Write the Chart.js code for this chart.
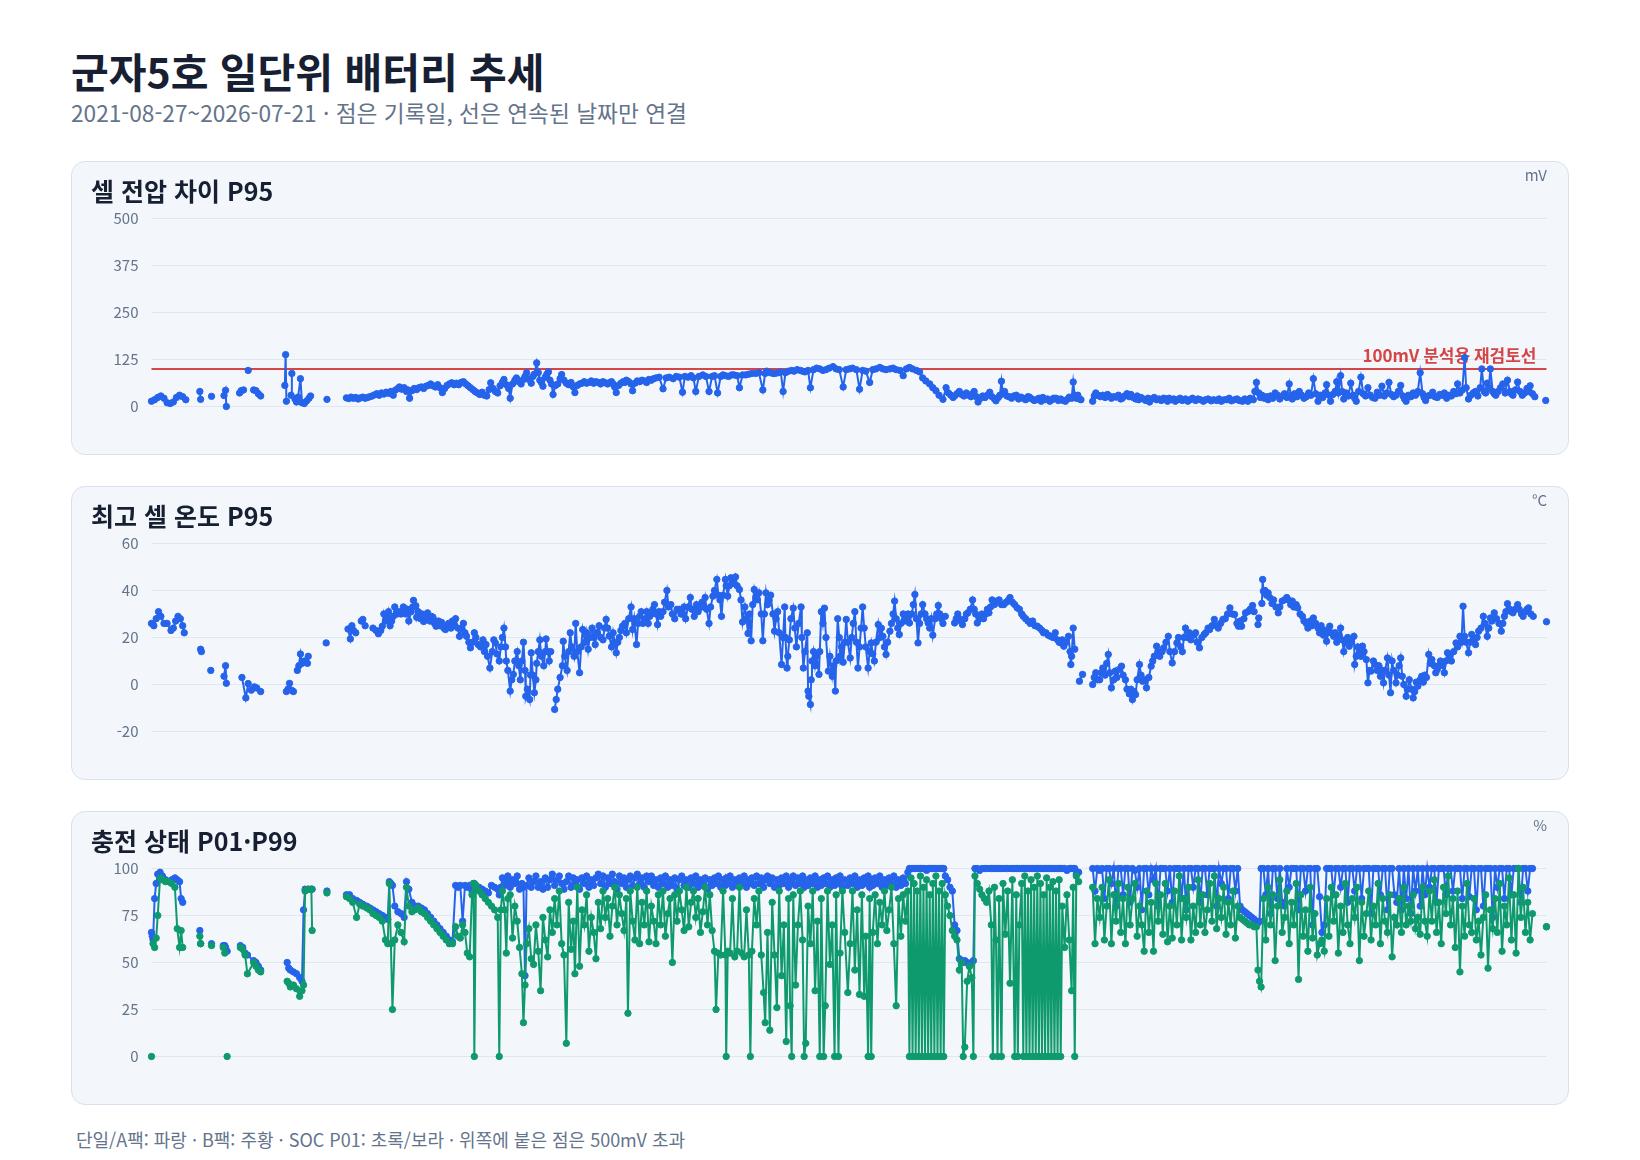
<!DOCTYPE html>
<html lang="ko">
<head>
<meta charset="utf-8">
<title>군자5호 일단위 배터리 추세</title>
<script src="https://cdn.jsdelivr.net/npm/chart.js@4.4.1/dist/chart.umd.min.js"></script>
<style>
  body { margin: 0; background: #ffffff; font-family: "Noto Sans CJK KR", "Noto Sans", sans-serif; }
  .page { position: relative; width: 1640px; height: 1160px; overflow: hidden; }
  h1 { position: absolute; left: 71px; top: 50px; margin: 0; font-size: 41px; line-height: 1; font-weight: 700; color: #172033; white-space: nowrap; }
  .sub { position: absolute; left: 71px; top: 102px; margin: 0; font-size: 22.7px; line-height: 1; color: #64748b; white-space: nowrap; }
  .panel { position: absolute; left: 71px; width: 1498px; height: 294px; box-sizing: border-box; border: 1.5px solid #d8e1eb; border-radius: 14px; background: #f3f7fb; }
  .panel h2 { position: absolute; left: 19px; top: 16px; margin: 0; font-size: 25px; line-height: 1; font-weight: 700; color: #172033; white-space: nowrap; z-index: 2; }
  .unit { position: absolute; right: 21px; top: 5px; font-size: 15px; line-height: 1; color: #64748b; z-index: 2; }
  .panel canvas { position: absolute; left: 0; top: 0; }
  .foot { position: absolute; left: 76px; top: 1130px; margin: 0; font-size: 18px; line-height: 1; color: #64748b; white-space: nowrap; }
</style>
</head>
<body>
<div class="page">
  <h1>군자5호 일단위 배터리 추세</h1>
  <p class="sub">2021-08-27~2026-07-21 · 점은 기록일, 선은 연속된 날짜만 연결</p>

  <div class="panel" style="top:161px">
    <h2>셀 전압 차이 P95</h2>
    <span class="unit">mV</span>
    <canvas id="cell-chart" width="1495" height="291"></canvas>
  </div>

  <div class="panel" style="top:486px">
    <h2>최고 셀 온도 P95</h2>
    <span class="unit">°C</span>
    <canvas id="temp-chart" width="1495" height="291"></canvas>
  </div>

  <div class="panel" style="top:811px">
    <h2>충전 상태 P01·P99</h2>
    <span class="unit">%</span>
    <canvas id="soc-chart" width="1495" height="291"></canvas>
  </div>

  <p class="foot">단일/A팩: 파랑 · B팩: 주황 · SOC P01: 초록/보라 · 위쪽에 붙은 점은 500mV 초과</p>
</div>

<script>
'use strict';

// *** Data (x = days since 2021-08-27, null = no record, breaks the line) ***

const TOTAL_DAYS = 1789;
const CELL_LIMIT_MV = 100;

let cellTicks = [0, 125, 250, 375, 500];
let tempTicks = [-20, 0, 20, 40, 60];
let socTicks = [0, 25, 50, 75, 100];

// [day, cell voltage gap P95 mV]
let cellDiffP95 = [
  [0,14],[4,18],[8,24],[12,28],[16,22],[20,10],[24,8],[28,12],[32,24],[36,30],[40,26],[44,18],[50,null],
  [62,40],[63,19],[70,null],[77,27],[85,null],[93,29],[95,43],[96,0],[105,null],
  [113,36],[115,42],[118,44],[121,null],[124,96],[127,null],[131,44],[134,42],[137,34],[140,28],[155,null],
  [171,56],[172,138],[173,14],[176,null],[179,30],[180,88],[182,null],
  [184,20],[186,12],[188,25],[191,74],[193,10],[196,8],[199,15],[202,22],[204,28],[215,null],[225,19],[240,null],
  [250,23],[253,21],[256,25],[259,22],[262,24],[265,20],[268,23],[271,25],[274,22],[277,24],[280,26],[283,28],
  [286,31],[289,34],[292,30],[295,36],[298,33],[301,38],[304,35],[307,40],[310,30],[313,44],[316,48],[318,52],
  [321,46],[324,50],[327,40],[329,44],[331,22],[334,42],[337,48],[340,45],[343,50],[346,52],[349,48],[352,54],
  [355,56],[358,60],[361,55],[364,52],[367,58],[370,50],[373,37],[376,48],[379,56],[382,60],[385,63],[388,58],
  [391,62],[394,58],[397,64],[400,66],[403,60],[406,55],[409,50],[412,45],[415,40],[418,36],[421,32],[424,38],
  [427,30],[430,28],[433,45],[435,63],[438,48],[441,40],[444,36],[447,55],[450,64],[452,72],[455,58],[458,48],
  [460,22],[463,60],[466,70],[468,76],[471,66],[474,60],[477,72],[479,80],[481,90],[484,72],[487,62],[489,80],
  [491,86],[494,116],[496,90],[498,70],[500,64],[502,54],[505,78],[507,86],[509,92],[511,70],[513,60],[515,32],
  [518,56],[521,60],[524,74],[526,85],[529,70],[532,62],[535,58],[538,64],[541,52],[543,37],[546,56],[549,60],
  [552,62],[555,66],[558,62],[561,64],[564,68],[567,62],[570,66],[573,64],[576,60],[579,66],[582,63],[585,60],
  [588,64],[590,66],[592,60],[594,52],[596,37],[599,56],[602,62],[605,66],[607,64],[609,70],[612,66],[615,60],
  [617,42],[620,62],[623,68],[626,66],[629,70],[632,68],[635,64],[638,72],[641,70],[644,74],
  [647,76],[651,78],[656,47],[660,76],[664,78],[669,74],[673,80],[677,78],[681,38],[684,80],[688,78],[692,82],
  [695,76],[698,40],[702,80],[707,84],[711,80],[715,40],[719,80],[722,82],[726,36],[730,80],[733,84],[736,82],
  [740,80],[744,84],[747,84],[751,82],[754,50],[758,84],[762,84],[766,86],[770,88],[775,88],[779,90],[784,44],
  [787,88],[789,94],[793,90],[797,88],[800,88],[804,90],[807,92],[810,40],[813,90],[817,94],[821,96],[824,94],
  [828,98],[832,96],[835,94],[838,92],[842,96],[845,50],[849,98],[853,102],[857,100],[861,96],[865,98],[869,102],
  [874,106],[878,100],[882,98],[887,52],[891,98],[895,100],[899,102],[904,98],[908,46],[912,96],[916,94],[921,64],
  [925,98],[929,100],[934,104],[938,100],[942,98],[947,100],[951,102],[955,98],[960,96],[964,82],[968,100],[972,104],
  [976,100],[981,96],[985,92],[989,76],[993,68],[998,60],[1002,50],[1006,42],[1010,30],[1015,19],
  [1019,50],[1022,36],[1025,30],[1028,24],[1030,28],[1033,34],[1036,40],[1039,32],[1042,28],[1045,36],[1048,30],
  [1051,26],[1053,34],[1055,40],[1058,26],[1060,12],[1063,22],[1066,28],[1069,24],[1072,30],[1075,38],[1078,26],
  [1081,20],[1083,15],[1086,24],[1088,30],[1090,67],[1092,34],[1094,40],[1097,28],[1100,26],[1103,22],[1106,28],
  [1109,30],[1112,20],[1115,25],[1118,22],[1121,18],[1124,26],[1126,25],[1129,20],[1132,16],[1135,18],[1138,22],
  [1141,14],[1143,24],[1146,18],[1149,20],[1152,14],[1155,18],[1157,22],[1160,22],[1163,16],[1166,20],[1169,16],
  [1172,14],[1175,20],[1177,25],[1180,22],[1182,65],[1184,30],[1186,22],[1188,30],[1190,20],[1192,18],[1198,null],
  [1207,14],[1209,28],[1211,36],[1214,30],[1217,26],[1220,30],[1223,24],[1226,32],[1228,28],[1231,22],[1234,26],
  [1237,25],[1240,30],[1243,20],[1245,22],[1248,28],[1251,34],[1254,26],[1256,32],[1259,24],[1262,20],[1264,28],
  [1266,18],[1269,24],[1272,20],[1275,16],[1278,22],[1280,12],[1283,20],[1286,24],[1289,18],[1292,20],[1295,16],
  [1298,22],[1301,20],[1303,14],[1305,22],[1308,18],[1311,20],[1313,14],[1316,18],[1319,22],[1322,16],[1326,20],
  [1329,14],[1332,18],[1335,22],[1339,16],[1342,20],[1345,18],[1349,14],[1352,18],[1355,20],[1359,15],[1362,18],
  [1366,16],[1369,20],[1372,14],[1376,18],[1379,18],[1382,22],[1385,15],[1389,18],[1392,20],[1395,16],[1399,14],
  [1402,20],[1406,14],[1409,22],[1413,18],[1415,40],[1417,64],[1420,36],[1422,24],[1424,30],[1427,22],[1430,26],
  [1432,18],[1435,28],[1438,22],[1441,36],[1444,30],[1447,20],[1450,28],[1453,34],[1456,24],[1459,60],[1461,30],
  [1463,20],[1466,34],[1469,26],[1472,40],[1475,30],[1478,22],[1481,26],[1484,36],[1487,30],[1490,74],[1493,34],
  [1496,14],[1499,30],[1502,24],[1505,36],[1507,58],[1510,30],[1512,14],[1515,32],[1518,40],[1520,66],[1522,36],
  [1525,82],[1527,40],[1529,20],[1532,36],[1535,28],[1538,62],[1541,30],[1543,22],[1545,14],[1548,40],[1551,78],
  [1554,34],[1557,28],[1560,50],[1563,30],[1566,24],[1569,22],[1572,38],[1575,30],[1578,54],[1581,28],[1584,36],
  [1587,64],[1590,32],[1593,26],[1596,30],[1599,40],[1602,56],[1605,28],[1607,20],[1609,14],[1612,30],[1615,26],
  [1618,36],[1621,30],[1624,40],[1627,90],[1630,34],[1632,24],[1634,16],[1637,28],[1640,30],[1643,38],[1646,26],
  [1649,24],[1652,32],[1655,30],[1658,36],[1661,22],[1664,30],[1667,28],[1670,40],[1673,34],[1675,60],[1678,36],
  [1681,44],[1684,130],[1686,50],[1689,20],[1692,30],[1695,36],[1698,40],[1701,28],[1704,50],[1706,100],[1709,40],
  [1711,36],[1713,62],[1715,50],[1717,100],[1720,40],[1722,34],[1724,30],[1727,40],[1730,50],[1733,60],[1736,36],
  [1739,70],[1742,40],[1744,34],[1746,30],[1749,44],[1752,65],[1755,40],[1758,30],[1761,36],[1764,48],[1766,40],
  [1768,55],[1771,34],[1774,26],[1780,null],[1788,16]
];

// [day, highest cell temperature P95 °C]
let maxTempP95 = [
  [0,26],[3,25],[6,28],[9,31],[12,29],[16,26],[20,26],[25,23],[28,24],[31,27],[34,29],[37,28],[40,25],[42,22],[50,null],
  [63,15],[64,14],[70,null],[76,6],[85,null],[93,3.5],[95,8],[96,0.5],[105,null],
  [116,3],[121,-5.7],[124,0.4],[128,-2.4],[132,-1],[135,-1.5],[140,-3],[155,null],
  [173,-3],[175,-2],[177,0.5],[180,-2.5],[182,-3],[184,null],
  [187,6],[189,8],[191,13],[193,9],[196,10],[200,9],[201,12],[210,null],[224,17.7],[240,null],
  [252,23.6],[255,19.4],[257,25],[259,23],[262,22],[266,null],[269,27],[271,27.7],[274,25],[278,null],
  [284,24],[288,23],[291,21.6],[294,23],[296,24.8],[298,30],[300,27],[302,28],[304,31],[306,25],[308,27],[310,29],
  [312,33],[315,30],[317,31],[320,30],[323,33],[326,30],[328,32],[330,27],[333,31],[335,33],[336,35.8],[339,33.5],
  [340,28.6],[342,31],[345,28],[347,30],[349,26.8],[352,29],[354,30.5],[357,27],[359,29],[361,28.6],[363,26],
  [365,24.8],[368,27],[370,25],[372,26.4],[375,24],[377,23.4],[379,25],[381,26],[384,24],[386,27],[388,25],[390,28],
  [393,24],[395,20.5],[398,24],[400,26],[402,22],[404,20.5],[407,18],[409,15.6],[412,18],[414,22],[416,20],[419,17],
  [422,16],[425,19],[427,14],[429,17],[431,12],[434,7],[437,14],[439,19],[441,17.7],[443,13],[446,10],[448,16],
  [450,20],[452,24],[454,16],[455,10],[457,6],[460,-2.8],[462,2],[464,4.3],[466,10],[469,14],[471,8],[473,2],
  [475,10],[477,18],[479,6],[480,-5],[482,-2],[485,-6.4],[486,4],[487,13.5],[489,4],[491,-3.5],[493,2],[494,9],
  [496,14],[498,19],[500,12],[503,8],[505,14],[506,19.4],[508,14],[510,10],[512,14],[514,null],
  [517,-10.6],[519,-6.4],[521,-2],[524,3],[527,8],[528,18.4],[530,12],[533,6],[535,14],[537,22],[539,16],[542,12],
  [544,26],[546,14],[549,5],[551,16],[553,23.4],[556,18],[558,22],[560,15],[562,20],[565,24],[567,20],[569,17],
  [571,22],[574,25],[576,20],[579,19],[581,24],[583,27.7],[585,24],[587,20.6],[590,16],[592,22],[594,18],[596,13.5],
  [598,18],[600,20],[602,23],[604,24.8],[607,26],[609,22],[612,28],[615,33],[617,23.4],[619,28],[622,17],[624,26],
  [626,29],[628,31],[630,26],[633,28],[635,31],[637,26],[639,29],[641,30],[643,32],[645,34],[647,30],[649,25.5],
  [651,31],[653,29],[656,31],[658,35],[661,40],[663,33],[666,34],[668,30],[671,28],[674,32],[677,32],[679,30],
  [681,30],[683,33],[685,28],[688,33],[691,37],[693,32],[696,29],[699,34],[701,31],[703,32.7],[706,35],[708,33],
  [710,37],[712,32],[715,26],[717,33],[720,37.6],[722,40],[725,44.7],[727,38],[729,36],[731,29],[733,38],[736,44.7],
  [737,42],[739,37.6],[741,42],[743,45.4],[745,44],[747,43],[749,45.8],[751,42],[754,40.4],[756,36],[758,26.6],
  [761,33],[763,28],[765,21.7],[767,30],[769,18.6],[771,34],[773,40.4],[775,37],[777,36],[779,39],[782,30],[784,18.6],
  [786,30],[788,39],[790,34],[792,36],[794,38],[797,30],[799,22.7],[801,28],[803,31],[805,22],[808,8.5],[810,20],
  [812,33],[813,20],[815,7],[816,12],[818,19],[820,28],[823,32.5],[825,24],[827,16],[830,26],[833,33],[834,20],
  [836,7],[838,14],[841,22],[842,-2.8],[843,-5],[845,-8.5],[846,2],[847,10],[849,14],[851,8],[853,12],[856,4.3],
  [857,14],[859,31],[861,26],[863,32.5],[865,20],[868,5.7],[870,12],[873,3.5],[875,8],[877,-2.8],[878,10],[880,28],
  [882,20],[883,12],[885,16],[887,9.5],[889,18],[891,27.7],[893,18],[896,11.3],[898,20],[900,26],[902,31],[904,18],
  [906,7],[908,16],[910,24],[912,33],[914,24],[916,16],[919,7],[921,14],[923,17.7],[925,13],[927,10],[929,18],
  [932,25.5],[934,20],[936,24],[938,20.5],[940,16],[942,12.8],[944,18],[947,22.7],[949,26],[951,30],[953,35.5],
  [955,28],[957,24],[959,21.3],[961,26],[964,30],[966,27],[968,28],[970,30],[972,26.2],[975,30],[977,34],[979,38.3],
  [981,28],[983,17.7],[985,26],[987,30],[989,34],[992,30],[994,28],[996,26.2],[998,24],[1000,28],[1002,21],[1005,28],
  [1007,30],[1009,33.6],[1011,30],[1013,28],[1015,26],[1018,29],[1022,null],
  [1030,26.2],[1032,28],[1034,30],[1036,28],[1038,27],[1040,25.5],[1043,28],[1045,30],[1047,30.5],[1050,32],[1053,36],
  [1055,32],[1057,30],[1059,26.2],[1062,28],[1065,30],[1067,28],[1070,30],[1072,32],[1074,30.5],[1076,33],[1078,36],
  [1081,34],[1084,35.5],[1087,36],[1090,34],[1093,34],[1096,35],[1099,36],[1101,37],[1104,35],[1107,34],[1110,32.7],
  [1113,32],[1116,30],[1118,29],[1121,28],[1124,27],[1127,26],[1130,27],[1133,25],[1136,24.8],[1139,24],[1142,23],
  [1144,22],[1147,22],[1150,21],[1153,20.5],[1156,20],[1159,22],[1162,19],[1164,18],[1166,17.7],[1168,19],[1170,16.3],
  [1173,18],[1176,20.5],[1178,14],[1179,8.5],[1180,12],[1182,24],[1184,15],[1187,null],[1190,1.4],[1194,4.3],[1200,null],
  [1207,0],[1209,3],[1211,5],[1213,2],[1216,2],[1218,5],[1220,7],[1223,4],[1225,9],[1227,12.8],[1229,5],[1231,-1.4],
  [1234,2],[1236,5.7],[1238,3],[1241,6.4],[1244,7.8],[1246,4],[1249,2],[1251,-2],[1254,-4],[1256,-2],[1258,-6.4],
  [1260,-3],[1262,-4.3],[1264,2],[1267,8.5],[1269,4],[1271,1.4],[1274,2],[1276,-1.4],[1279,3],[1282,7.8],[1284,10],
  [1286,12],[1289,16.3],[1291,14],[1293,12],[1296,14],[1298,15.6],[1301,18],[1304,20.5],[1306,14],[1309,9.2],
  [1312,14],[1315,17.7],[1317,20],[1320,16],[1322,14],[1324,20],[1326,24],[1329,20],[1331,22],[1333,19],[1336,21],
  [1339,22],[1341,18],[1344,15.6],[1347,20],[1350,21.3],[1352,22],[1355,24],[1357,23.4],[1360,25],[1363,27.7],
  [1366,25],[1368,24],[1371,26],[1374,27.7],[1377,28],[1380,30],[1383,32.6],[1386,30],[1389,29.8],[1392,26],
  [1394,24.8],[1396,27],[1398,24.8],[1401,28],[1403,30.5],[1406,31],[1409,32],[1412,33.6],[1414,31],[1416,null],
  [1419,25.5],[1420,28.3],[1422,null],[1424,34.5],[1425,44.7],[1426,39.7],[1428,40],[1430,38],[1432,39],[1434,37],
  [1437,34.5],[1439,36],[1442,33],[1445,30.5],[1447,33],[1450,35.5],[1453,36],[1456,37],[1458,36],[1461,34],
  [1463,35.5],[1465,33],[1468,34],[1470,32.6],[1473,30],[1476,29],[1478,27],[1481,26],[1483,24],[1486,27],[1488,25],
  [1490,28.3],[1493,26],[1496,24],[1498,22],[1500,25],[1503,21],[1505,23],[1507,18.4],[1509,22],[1511,24.8],
  [1513,22],[1516,20.5],[1518,22],[1520,18],[1523,21],[1525,24],[1527,19],[1529,14],[1531,18],[1534,20],[1536,16.3],
  [1539,18],[1542,20.5],[1543,8.5],[1545,12],[1547,16],[1549,13.5],[1551,12],[1553,16.3],[1555,14],[1558,10.6],
  [1560,0.7],[1562,6],[1564,5.7],[1567,10],[1569,8.5],[1572,6],[1574,8],[1576,3.5],[1578,6],[1580,0.7],[1582,6],
  [1585,11.3],[1587,4],[1589,-3.5],[1591,10],[1593,6],[1596,0.7],[1598,4],[1600,8],[1602,11.3],[1604,3.5],[1606,0],
  [1609,-5],[1611,-2],[1613,2],[1616,-2],[1618,-5.7],[1620,-3],[1622,1],[1624,-0.7],[1627,2],[1629,3.5],[1631,1],
  [1633,4],[1635,3],[1638,12.8],[1640,9],[1642,10.6],[1645,8],[1647,5],[1649,6.4],[1651,8],[1653,10],[1656,8],
  [1658,5],[1660,10],[1662,13.5],[1665,12],[1667,10],[1670,14],[1673,17.7],[1675,16],[1678,20.5],[1680,18],
  [1682,33.3],[1684,20.5],[1686,18],[1689,13.5],[1691,18],[1693,21.3],[1696,19],[1698,17],[1700,20],[1702,22.7],
  [1705,24],[1708,29],[1710,26],[1713,20.5],[1715,24],[1717,28.3],[1719,27],[1722,30.5],[1725,28],[1728,26],
  [1731,22.7],[1733,26],[1735,29],[1737,31],[1739,34.4],[1742,32],[1744,31],[1746,30.5],[1749,32],[1752,34],
  [1754,32],[1757,30],[1759,29],[1762,31],[1764,32],[1766,32.6],[1769,30],[1772,29],[1780,null],[1789,26.7]
];

// [day, SOC P99 %, SOC P01 %]
let socDaily = [
  [0,66,0],[1,64,null],[2,62,60],[4,84,58],[6,92,63],[8,97,75],[11,98,95],[14,96,94],[18,94,93],[22,93,93],[26,94,92],
  [30,95,90],[33,94,68],[36,93,58],[38,84,67],[40,82,58],[50,null,null],
  [62,67,64],[63,60,60],[70,null,null],[77,60,59],[85,null,null],
  [92,59,58],[94,59,55],[95,58,null],[97,56,0],[105,null,null],
  [114,59,58],[117,58,57],[120,55,54],[123,54,44],[131,51,50],[134,50,48],[137,48,46],[140,46,45],[155,null,null],
  [174,50,40],[176,47,39],[178,46,37],[182,45,38],[186,44,36],[190,42,32],[193,40,35],[195,78,38],[197,89,88],
  [201,89,89],[205,89,89],[206,89,67],[215,null,null],[225,88,87],[240,null,null],
  [250,86,85],[254,86,84],[258,84,82],[263,83,74],[267,82,81],[271,81,80],[276,80,79],[280,79,78],[284,78,76],
  [288,77,75],[292,76,74],[296,75,72],[300,74,62],[303,73,60],[305,93,92],[307,92,60],[309,91,25],[312,80,62],
  [316,77,70],[320,76,66],[324,74,61],[327,93,90],[330,89,80],[334,82,77],[338,80,78],[342,80,79],[346,79,77],
  [350,78,76],[354,76,74],[358,74,72],[362,72,70],[366,70,68],[370,68,66],[374,66,64],[378,64,62],[382,62,60],
  [386,61,60],[390,91,69],[393,90,64],[396,91,63],[399,72,70],[402,91,66],[405,90,55],[408,91,53],[411,88,86],
  [413,92,92],[414,92,0],[416,91,91],[420,90,88],[424,89,86],[428,88,84],[432,87,82],[436,91,80],[440,90,78],
  [444,89,74],[446,86,0],[448,90,78],
  [450,95,88],[453,91,78],[455,93,55],[457,96,84],[460,90,86],[463,94,63],[466,92,80],[469,96,72],[472,89,58],
  [475,92,44],[477,90,18],[479,43,38],[481,91,60],[484,95,68],[487,90,52],[490,93,49],[493,96,70],[496,90,56],
  [499,93,35],[502,89,74],[505,95,62],[508,90,53],[511,94,78],[514,97,66],[517,91,84],[520,94,70],[523,96,88],
  [526,92,60],[529,89,54],[532,93,7],[535,96,82],[538,90,57],[541,95,72],[543,92,44],[546,94,90],[549,89,48],
  [552,95,78],[555,92,70],[558,96,86],[561,90,56],[564,94,74],[567,91,66],[570,95,52],[573,97,82],[576,92,68],
  [579,96,88],[582,90,74],[585,95,84],[588,92,64],[591,97,80],[594,93,90],[597,89,70],[600,96,86],[603,92,76],
  [606,95,67],[609,90,84],[611,94,23],[614,96,88],[617,91,72],[620,95,62],[623,97,90],[626,92,60],[629,95,82],
  [632,90,70],[635,96,88],[638,93,61],[641,96,80],[644,91,72],[647,94,60],[650,90,86],
  [653,95,70],[656,92,88],[659,96,64],[662,90,76],[665,94,84],[668,91,50],[671,95,86],[674,89,72],[677,94,88],
  [680,96,78],[683,91,67],[686,94,90],[689,90,69],[692,95,82],[695,92,88],[698,96,74],[701,90,84],[704,94,66],
  [707,91,77],[710,95,90],[713,89,70],[716,94,86],[719,91,67],[722,95,56],[724,92,25],[727,96,55],[730,90,54],
  [733,94,88],[736,91,54],[737,95,0],[739,92,56],[742,96,55],[745,90,84],[748,94,53],[751,91,56],[754,95,90],
  [757,92,55],[760,96,53],[763,90,78],[766,94,54],[768,92,0],[770,95,56],[773,91,84],[776,96,70],[779,92,88],
  [782,95,54],[785,90,34],[787,94,18],[790,96,66],[793,92,14],[796,95,82],[799,90,54],[802,94,26],[805,91,88],
  [808,95,43],[811,92,70],[814,96,8],[817,90,84],[819,94,27],[821,92,0],[823,96,86],[826,91,38],[829,95,70],
  [832,92,88],[835,96,62],[837,90,0],[839,94,7],[842,91,80],[845,95,60],[848,92,88],[851,96,35],[854,90,72],
  [857,94,0],[859,91,84],[862,95,0],[864,92,27],[867,96,88],[870,90,49],[873,94,70],[876,91,0],[878,95,86],
  [881,92,0],[883,96,55],[886,90,88],[889,94,66],[893,91,34],[896,95,60],[899,92,88],[902,96,46],[905,90,78],
  [908,94,33],[911,91,86],[914,95,32],[916,92,64],[919,96,0],[921,90,84],[923,94,0],[925,91,66],[928,95,86],
  [931,92,60],[934,96,82],[937,90,70],[940,94,88],[943,91,67],[946,95,78],[949,92,90],[952,96,60],[955,90,27],
  [958,94,84],[961,91,64],[964,95,86],[967,92,72],[970,98,88],
  [972,100,0],[974,100,95],[976,100,0],[978,100,92],[980,100,0],[982,100,88],[984,100,0],[986,100,96],[988,100,0],
  [990,100,90],[992,100,0],[994,99,94],[996,100,0],[998,100,86],[1000,100,0],[1002,100,92],[1004,100,0],[1006,100,96],
  [1008,100,0],[1010,100,88],[1012,100,0],[1014,100,92],[1016,100,0],[1018,96,86],[1021,94,80],[1024,90,75],
  [1027,88,67],[1030,70,64],[1033,67,62],[1036,52,46],[1039,51,50],[1041,50,0],[1043,51,5],[1046,50,40],[1049,48,48],
  [1052,50,42],[1054,51,0],[1056,100,96],[1059,100,92],[1062,99,89],[1065,100,86],[1068,100,84],[1071,100,82],
  [1074,100,88],[1077,100,70],[1079,100,0],[1081,100,90],[1083,100,62],[1085,100,0],[1087,100,84],[1090,100,0],
  [1092,100,92],[1095,100,65],[1098,100,88],[1101,100,39],[1104,100,94],[1107,100,0],[1109,100,86],[1111,100,0],
  [1113,100,70],[1116,100,92],[1118,100,0],[1120,100,96],[1122,100,0],[1124,100,88],[1126,100,0],[1128,100,94],
  [1130,100,0],[1132,100,90],[1134,100,0],[1136,100,96],[1138,100,0],[1140,100,92],[1142,100,0],[1144,100,86],
  [1146,100,0],[1148,100,95],[1150,100,0],[1152,100,90],[1154,100,0],[1156,100,93],[1158,100,0],[1160,100,88],
  [1162,100,0],[1164,100,94],[1166,100,0],[1168,100,80],[1171,100,58],[1174,99,86],[1177,100,62],[1180,100,35],
  [1182,100,90],[1184,100,0],[1186,97,96],[1189,98,93],[1198,null,null],
  [1207,100,90],[1210,88,60],[1213,100,84],[1216,99,74],[1219,100,90],[1222,84,62],[1225,100,80],[1228,100,94],
  [1231,92,60],[1234,100,86],[1237,80,72],[1240,100,92],[1243,100,66],[1246,86,84],[1249,100,60],[1252,100,90],
  [1255,82,70],[1258,100,84],[1261,99,92],[1264,90,64],[1267,100,80],[1270,78,70],[1273,100,56],[1276,100,88],
  [1279,86,66],[1282,100,82],[1285,94,56],[1288,100,92],[1291,80,72],[1294,100,86],[1297,100,65],[1300,100,92],
  [1303,88,61],[1306,100,80],[1309,82,63],[1312,100,88],[1315,100,70],[1318,100,96],[1321,84,62],[1324,100,84],
  [1327,78,74],[1330,100,90],[1333,100,62],[1336,90,80],[1339,100,66],[1342,100,94],[1345,82,70],[1348,100,86],
  [1351,100,66],[1354,86,78],[1357,100,92],[1360,100,72],[1363,100,96],[1366,80,68],[1369,100,84],[1372,92,74],
  [1375,100,90],[1378,100,65],[1381,84,82],[1384,100,70],[1387,100,88],[1390,88,63],[1393,100,80],[1396,80,74],
  [1399,78,73],[1402,77,72],[1405,76,71],[1408,75,70],[1411,74,70],[1414,73,69],[1417,72,69],[1419,71,46],
  [1421,72,40],[1423,100,37],[1426,100,84],[1429,86,62],[1432,100,90],[1435,76,70],[1438,100,86],[1441,100,51],
  [1444,84,80],[1447,100,94],[1450,82,66],[1453,80,74],[1456,100,88],[1459,90,60],[1462,100,82],[1465,100,70],
  [1468,100,92],[1471,78,41],[1474,100,86],[1477,100,64],[1480,88,78],[1483,100,56],[1486,100,90],[1489,70,63],
  [1492,100,76],[1495,100,54],[1498,85,60],[1501,66,62],[1504,70,56],[1507,100,84],[1510,100,64],[1513,100,90],
  [1516,86,72],[1519,100,86],[1522,100,55],[1525,90,80],[1528,100,66],[1531,100,92],[1534,82,70],[1537,100,60],
  [1540,100,84],[1543,88,74],[1546,100,90],[1549,100,51],[1552,84,82],[1555,100,64],[1558,100,76],[1561,100,88],
  [1564,76,62],[1567,100,80],[1570,100,70],[1573,100,92],[1576,86,60],[1579,100,84],[1582,100,72],[1585,78,66],
  [1588,100,86],[1591,100,53],[1594,86,74],[1597,82,70],[1600,100,84],[1603,78,66],[1606,100,90],[1609,84,70],
  [1612,100,80],[1615,76,72],[1618,100,86],[1621,88,68],[1624,100,74],[1627,80,65],[1630,100,90],[1633,86,72],
  [1636,100,64],[1639,90,88],[1642,100,72],[1645,100,94],[1648,82,66],[1651,100,82],[1654,100,60],[1657,100,90],
  [1660,86,76],[1663,100,96],[1666,100,70],[1669,88,84],[1672,100,58],[1675,100,88],[1678,100,45],[1681,84,80],
  [1684,100,64],[1687,100,92],[1690,85,70],[1693,100,66],[1696,100,84],[1699,78,62],[1702,100,72],[1705,100,54],
  [1708,80,74],[1711,100,86],[1714,100,47],[1717,100,78],[1720,74,68],[1723,100,84],[1726,90,66],[1729,100,92],
  [1732,100,56],[1735,84,80],[1738,100,70],[1741,100,95],[1744,86,62],[1747,100,86],[1750,100,55],[1753,100,100],
  [1756,82,74],[1759,100,90],[1762,100,66],[1765,88,82],[1768,100,62],[1771,100,76],[1780,null,null],[1789,69,69]
];

// *** Styles ***

const BLUE = '#2563eb';
const GREEN = '#0f9a6e';
const RED = '#d64545';
const GRID = '#e1e7ef';
const TICK = '#64748b';

Chart.defaults.font.family = '"Noto Sans CJK KR", "Noto Sans", sans-serif';
Chart.defaults.animation = false;

// *** Helpers ***

function toPoints(rows, col) {
  return rows.map(function (r) { return { x: r[0], y: r[col] }; });
}

function lineSet(label, points, color) {
  return {
    label: label,
    data: points,
    borderColor: color,
    backgroundColor: color,
    borderWidth: 2,
    pointRadius: 3.2,
    pointBorderWidth: 1,
    pointHoverRadius: 3.2,
    spanGaps: false,
    clip: false,
    tension: 0
  };
}

// red 100mV reference line, drawn under the points
let limitLine = {
  id: 'limitLine',
  beforeDatasetsDraw(chart) {
    let ctx = chart.ctx;
    let area = chart.chartArea;
    let y = chart.scales.y.getPixelForValue(CELL_LIMIT_MV);
    ctx.save();
    ctx.strokeStyle = RED;
    ctx.lineWidth = 2;
    ctx.beginPath();
    ctx.moveTo(area.left, y);
    ctx.lineTo(area.right, y);
    ctx.stroke();
    ctx.fillStyle = RED;
    ctx.font = 'bold 17px "Noto Sans CJK KR", "Noto Sans", sans-serif';
    ctx.textAlign = 'right';
    ctx.textBaseline = 'alphabetic';
    ctx.fillText('100mV 분석용 재검토선', area.right - 10, y - 7);
    ctx.restore();
  }
};

function makeChart(canvasId, datasets, ticks, plugins) {
  let el = document.getElementById(canvasId);
  return new Chart(el, {
    type: 'line',
    data: { datasets: datasets },
    options: {
      responsive: false,
      devicePixelRatio: 1,
      layout: { padding: { left: 0, right: 20.5, top: 56.5, bottom: 46.5 } },
      plugins: { legend: { display: false }, tooltip: { enabled: false }, title: { display: false } },
      scales: {
        x: { type: 'linear', min: 0, max: TOTAL_DAYS, display: false },
        y: {
          min: ticks[0],
          max: ticks[ticks.length - 1],
          afterBuildTicks: function (scale) { scale.ticks = ticks.map(function (v) { return { value: v }; }); },
          afterFit: function (scale) { scale.width = 79.5; },
          border: { display: false },
          grid: { color: GRID, lineWidth: 1, drawTicks: false },
          ticks: { color: TICK, padding: 13, font: { size: 15 } }
        }
      }
    },
    plugins: plugins || []
  });
}

// *** Executable Code ***

makeChart('cell-chart', [lineSet('셀 전압 차이 P95', toPoints(cellDiffP95, 1), BLUE)], cellTicks, [limitLine]);
makeChart('temp-chart', [lineSet('최고 셀 온도 P95', toPoints(maxTempP95, 1), BLUE)], tempTicks);
makeChart('soc-chart', [
  lineSet('SOC P01', toPoints(socDaily, 2), GREEN),
  lineSet('SOC P99', toPoints(socDaily, 1), BLUE)
], socTicks);
</script>
</body>
</html>
